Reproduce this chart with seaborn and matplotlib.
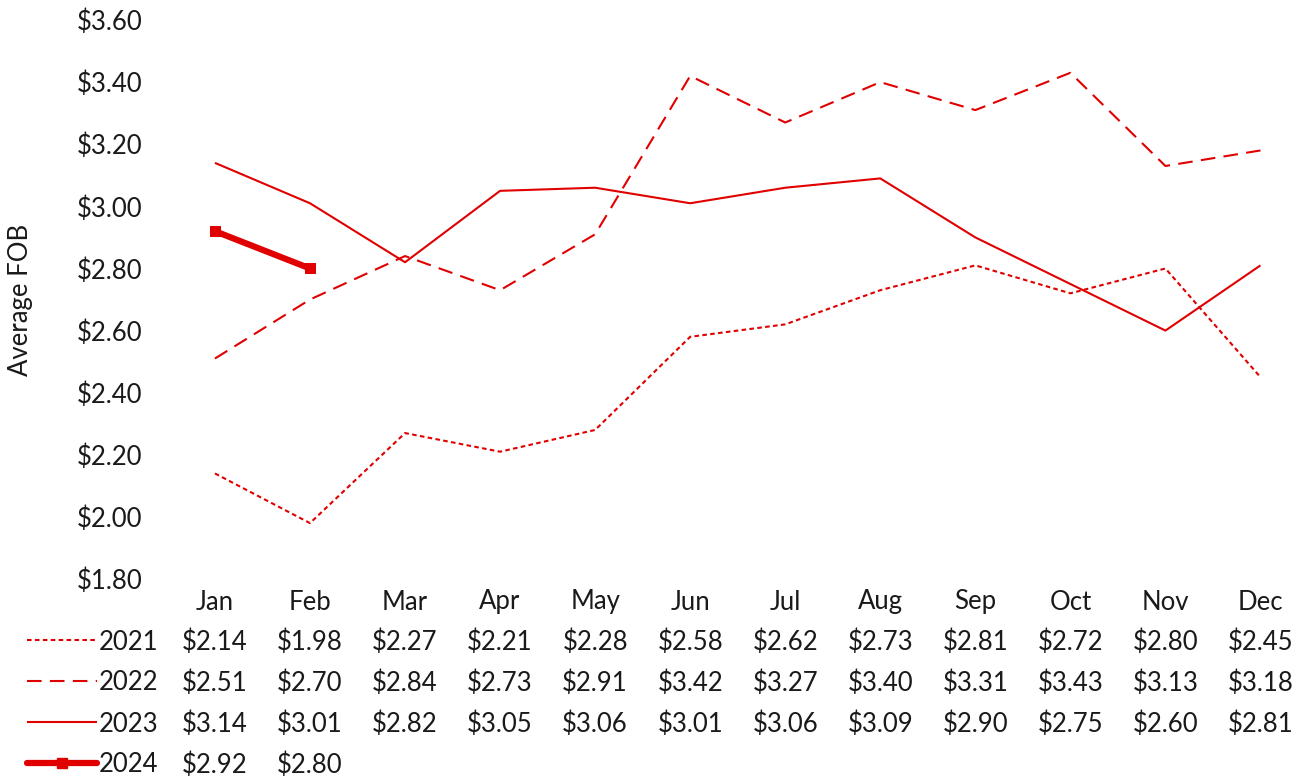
import matplotlib
matplotlib.use("Agg")
import matplotlib.pyplot as plt
import matplotlib.transforms as mtransforms
from matplotlib.lines import Line2D
import seaborn as sns
import pandas as pd

months = ["Jan", "Feb", "Mar", "Apr", "May", "Jun", "Jul", "Aug", "Sep", "Oct", "Nov", "Dec"]
years = ["2021", "2022", "2023", "2024"]
fob_2021 = [2.14, 1.98, 2.27, 2.21, 2.28, 2.58, 2.62, 2.73, 2.81, 2.72, 2.80, 2.45]
fob_2022 = [2.51, 2.70, 2.84, 2.73, 2.91, 3.42, 3.27, 3.40, 3.31, 3.43, 3.13, 3.18]
fob_2023 = [3.14, 3.01, 2.82, 3.05, 3.06, 3.01, 3.06, 3.09, 2.90, 2.75, 2.60, 2.81]
fob_2024 = [2.92, 2.80]
y_ticks = [1.80, 2.00, 2.20, 2.40, 2.60, 2.80, 3.00, 3.20, 3.40, 3.60]

series = {"2021": fob_2021, "2022": fob_2022, "2023": fob_2023, "2024": fob_2024}

RED = "#E00000"
styles = {
    "2021": dict(lw=1.5, dashes=(2.2, 1.6), marker=None, ms=0),
    "2022": dict(lw=1.5, dashes=(7, 4), marker=None, ms=0),
    "2023": dict(lw=1.5, dashes=(), marker=None, ms=0),
    "2024": dict(lw=4.5, dashes=(), marker="s", ms=7),
}

rows = []
for yr, vals in series.items():
    for i, v in enumerate(vals):
        rows.append({"year": yr, "idx": i, "month": months[i], "fob": v})
df = pd.DataFrame(rows)

sns.set_theme(style="white")
plt.rcParams["font.family"] = ["Lato", "DejaVu Sans"]
FS = 18.5
TXT = "#1a1a1a"

fig = plt.figure(figsize=(13.08, 7.79), dpi=100)
ax = fig.add_axes([0.128, 0.2567, 0.872, 0.7176])

for yr in years:
    st = styles[yr]
    sub = df[df["year"] == yr]
    line_kw = dict(color=RED, linewidth=st["lw"], solid_capstyle="butt")
    if st["dashes"]:
        line_kw["dashes"] = st["dashes"]
    if st["marker"]:
        line_kw.update(marker=st["marker"], markersize=st["ms"],
                       markeredgecolor=RED, markerfacecolor=RED)
    sns.lineplot(data=sub, x="idx", y="fob", ax=ax, legend=False, **line_kw)

ax.set_xlim(-0.5, 11.5)
ax.set_ylim(1.8, 3.6)
ax.set_yticks(y_ticks)
ax.set_yticklabels([f"${t:.2f}" for t in y_ticks], fontsize=FS, color=TXT)
ax.tick_params(axis="y", length=0, pad=18)
ax.set_xticks([])
ax.set_xlabel("")
ax.set_ylabel("Average FOB", fontsize=FS, color=TXT)
ax.yaxis.set_label_coords(-0.118, 0.5)
for s in ax.spines.values():
    s.set_visible(False)

# data table below the plot: month header, then one row per year
H = 779.0
trans = mtransforms.blended_transform_factory(ax.transData, fig.transFigure)
for i, m in enumerate(months):
    ax.text(i, 1 - 602 / H, m, transform=trans, ha="center", va="center",
            fontsize=FS, color=TXT, clip_on=False)

row_y = {"2021": 642, "2022": 683, "2023": 724, "2024": 765}
for yr in years:
    y = 1 - row_y[yr] / H
    st = styles[yr]
    ly = 1 - (row_y[yr] - 2) / H
    key = Line2D([27 / 1308, 97 / 1308], [ly, ly], transform=fig.transFigure,
                 color=RED, linewidth=st["lw"],
                 linestyle=(0, st["dashes"]) if st["dashes"] else "-",
                 solid_capstyle="round" if yr == "2024" else "butt")
    fig.add_artist(key)
    if st["marker"]:
        fig.add_artist(Line2D([62 / 1308], [ly], transform=fig.transFigure,
                              marker="s", markersize=st["ms"], color=RED,
                              linestyle="none"))
    fig.text(99 / 1308, y, yr, ha="left", va="center", fontsize=FS, color=TXT)
    for i, v in enumerate(series[yr]):
        ax.text(i, y, f"${v:.2f}", transform=trans, ha="center", va="center",
                fontsize=FS, color=TXT, clip_on=False)

fig.savefig("out.png", dpi=100)
